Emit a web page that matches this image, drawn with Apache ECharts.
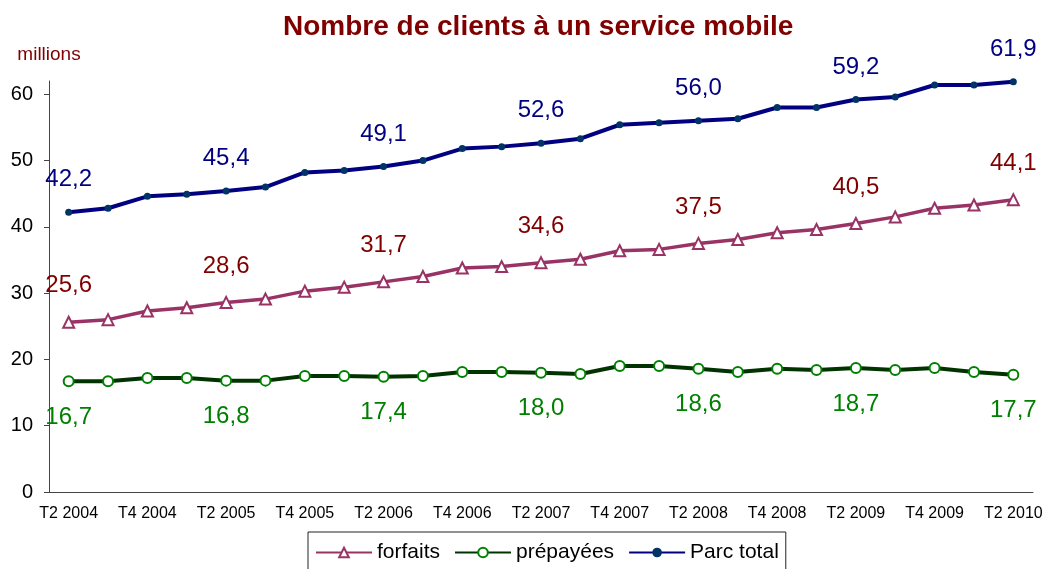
<!DOCTYPE html>
<html>
<head>
<meta charset="utf-8">
<title>Nombre de clients à un service mobile</title>
<script src="https://cdn.jsdelivr.net/npm/echarts@6/dist/echarts.min.js"></script>
<style>
	html, body { margin: 0; padding: 0; background: #fff; }
	#chart { width: 1051px; height: 569px; }
</style>
</head>
<body>
<div id="chart"></div>
<script>
// trimestres
const quarters = [
	"T2 2004", "T3 2004", "T4 2004", "T1 2005", "T2 2005", "T3 2005", "T4 2005",
	"T1 2006", "T2 2006", "T3 2006", "T4 2006", "T1 2007", "T2 2007", "T3 2007",
	"T4 2007", "T1 2008", "T2 2008", "T3 2008", "T4 2008", "T1 2009", "T2 2009",
	"T3 2009", "T4 2009", "T1 2010", "T2 2010"
];

// millions de clients
const forfaits = [25.6, 26.0, 27.3, 27.8, 28.6, 29.1, 30.3, 30.9, 31.7, 32.5, 33.8, 34.0, 34.6, 35.1, 36.4, 36.6, 37.5, 38.1, 39.1, 39.6, 40.5, 41.5, 42.8, 43.3, 44.1];
const prepayees = [16.7, 16.7, 17.2, 17.2, 16.8, 16.8, 17.5, 17.5, 17.4, 17.5, 18.1, 18.1, 18.0, 17.8, 19.0, 19.0, 18.6, 18.1, 18.6, 18.4, 18.7, 18.4, 18.7, 18.1, 17.7];
const parcTotal = [42.2, 42.8, 44.6, 44.9, 45.4, 46.0, 48.2, 48.5, 49.1, 50.0, 51.8, 52.1, 52.6, 53.3, 55.4, 55.7, 56.0, 56.3, 58.0, 58.0, 59.2, 59.6, 61.4, 61.4, 61.9];

const yTicks = [0, 10, 20, 30, 40, 50, 60];

const FONT = "'Liberation Sans', Arial, sans-serif";

// une étiquette tous les 4 trimestres, virgule décimale
const labelFmt = p => (p.dataIndex % 4 === 0 ? p.value.toFixed(1).replace(".", ",") : "");

const myChart = echarts.init(document.getElementById("chart"));

const option = {
	animation: false,
	backgroundColor: "#fff",
	textStyle: { fontFamily: FONT },
	title: {
		text: "Nombre de clients à un service mobile",
		left: 283,
		top: 13,
		padding: 0,
		textStyle: {
			color: "#800000",
			fontSize: 28,
			fontWeight: "bold",
			fontFamily: FONT
		}
	},
	legend: {
		left: 308,
		top: 532,
		padding: [10, 7, 10, 7],
		borderColor: "#222",
		borderWidth: 1,
		itemWidth: 56,
		itemHeight: 12,
		itemGap: 14,
		textStyle: { fontSize: 21, color: "#000", fontFamily: FONT },
		data: ["forfaits", "prépayées", "Parc total"]
	},
	grid: {
		left: 49,
		right: 18,
		top: 81,
		bottom: 77
	},
	xAxis: {
		type: "category",
		data: quarters,
		boundaryGap: true,
		axisLine: { lineStyle: { color: "#444", width: 1 } },
		axisTick: { interval: 0, length: 5, lineStyle: { color: "#444" } },
		axisLabel: {
			interval: 1,
			margin: 14,
			fontSize: 16,
			color: "#000",
			fontFamily: FONT
		},
		splitLine: { show: false }
	},
	yAxis: {
		type: "value",
		min: 0,
		max: 62,
		interval: 10,
		name: "millions",
		nameLocation: "end",
		nameGap: 17,
		nameTextStyle: { color: "#800000", fontSize: 19, fontFamily: FONT, align: "center" },
		axisLine: { show: true, lineStyle: { color: "#444", width: 1 } },
		axisTick: { show: true, length: 5, customValues: yTicks, lineStyle: { color: "#444" } },
		axisLabel: { margin: 16, fontSize: 20, color: "#000", customValues: yTicks, fontFamily: FONT },
		splitLine: { show: false }
	},
	series: [
		{
			name: "forfaits",
			type: "line",
			data: forfaits,
			symbol: "triangle",
			symbolSize: 11,
			lineStyle: { color: "#993366", width: 3.5 },
			itemStyle: { color: "#fff", borderColor: "#993366", borderWidth: 2 },
			label: {
				show: true,
				position: "top",
				distance: 18,
				formatter: labelFmt,
				color: "#800000",
				fontSize: 24,
				fontFamily: FONT
			}
		},
		{
			name: "prépayées",
			type: "line",
			data: prepayees,
			symbol: "circle",
			symbolSize: 10,
			lineStyle: { color: "#003300", width: 4 },
			itemStyle: { color: "#fff", borderColor: "#008000", borderWidth: 2 },
			label: {
				show: true,
				position: "bottom",
				distance: 18,
				formatter: labelFmt,
				color: "#008000",
				fontSize: 24,
				fontFamily: FONT
			}
		},
		{
			name: "Parc total",
			type: "line",
			data: parcTotal,
			symbol: "circle",
			symbolSize: 7,
			lineStyle: { color: "#000080", width: 4 },
			itemStyle: { color: "#003366", borderWidth: 0 },
			label: {
				show: true,
				position: "top",
				distance: 17,
				formatter: labelFmt,
				color: "#000080",
				fontSize: 24,
				fontFamily: FONT
			}
		}
	]
};

myChart.setOption(option);
</script>
</body>
</html>
